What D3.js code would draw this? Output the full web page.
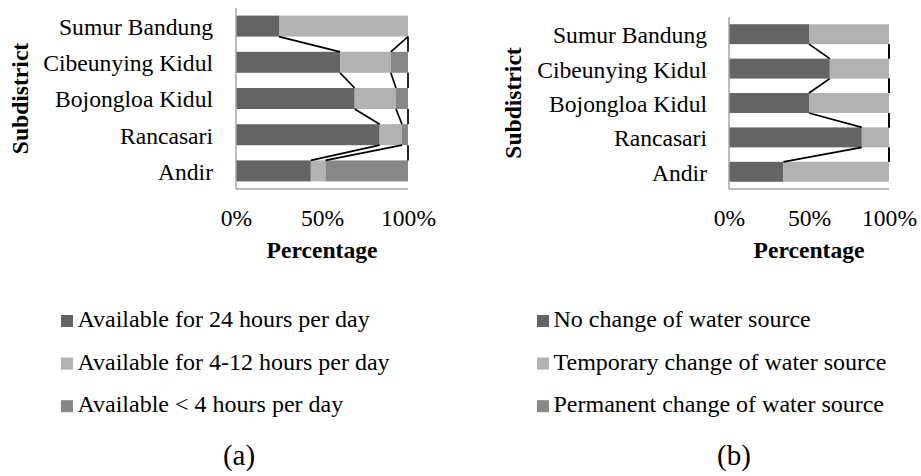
<!DOCTYPE html>
<html>
<head>
<meta charset="utf-8">
<script src="https://cdn.jsdelivr.net/npm/d3@7"></script>
<style>
  html, body { margin: 0; padding: 0; background: #ffffff; }
  svg { display: block; }
</style>
</head>
<body>
<svg id="chart" width="921" height="476"></svg>
<script>
// Subdistricts, listed top to bottom
const categories = ["Sumur Bandung", "Cibeunying Kidul", "Bojongloa Kidul", "Rancasari", "Andir"];

// (a) Duration of water availability, percent of respondents
const availability24h = [25, 60.5, 69, 83.5, 43.5];
const availability4to12h = [75, 29.5, 24, 13, 8.5];
const availabilityUnder4h = [0, 10, 7, 3.5, 48];
const availabilityLabels = ["Available for 24 hours per day", "Available for 4-12 hours per day", "Available < 4 hours per day"];

// (b) Change of water source, percent of respondents
const noChange = [50, 63, 50, 83, 34];
const temporaryChange = [50, 37, 50, 17, 66];
const permanentChange = [0, 0, 0, 0, 0];
const sourceLabels = ["No change of water source", "Temporary change of water source", "Permanent change of water source"];

const xTicks = [0, 50, 100];
const tickLabels = ["0%", "50%", "100%"];
const panelTags = ["(a)", "(b)"];

const colors = ["#646464", "#b2b2b2", "#878787"];
const FONT = 23.6;
const FAMILY = "Liberation Serif";

const svg = d3.select("#chart");

function styleText(sel, size) {
  return sel.style("font-family", FAMILY).style("font-size", (size || FONT) + "px").attr("fill", "#000");
}

function drawPanel(opt) {
  const g = svg.append("g");
  const x = d3.scaleLinear().domain([0, 100]).range([opt.x0, opt.x1]);
  const y = d3.scaleBand().domain(categories).range([opt.y0, opt.y1])
    .paddingInner(0.42).paddingOuter(0.21);

  // stack the series per category
  const rows = categories.map((c, i) => {
    const r = { cat: c };
    opt.series.forEach((s, k) => r["s" + k] = s[i]);
    return r;
  });
  const keys = opt.series.map((s, k) => "s" + k);
  const stacked = d3.stack().keys(keys)(rows);

  // bars
  stacked.forEach((layer, k) => {
    g.append("g").attr("fill", colors[k]).selectAll("rect")
      .data(layer).join("rect")
      .attr("x", d => x(d[0]))
      .attr("y", d => y(d.data.cat))
      .attr("width", d => Math.max(0, x(d[1]) - x(d[0])))
      .attr("height", y.bandwidth());
  });

  // series lines joining segment ends of neighbouring bars
  stacked.forEach(layer => {
    for (let i = 0; i < layer.length - 1; i++) {
      const a = layer[i], b = layer[i + 1];
      g.append("line")
        .attr("x1", x(a[1])).attr("y1", y(a.data.cat) + y.bandwidth())
        .attr("x2", x(b[1])).attr("y2", y(b.data.cat))
        .attr("stroke", "#000").attr("stroke-width", 1.7);
    }
  });

  // axis lines
  g.append("line").attr("x1", opt.x0).attr("x2", opt.x0)
    .attr("y1", opt.y0).attr("y2", opt.y1)
    .attr("stroke", "#a6a6a6").attr("stroke-width", 1.5);
  g.append("line").attr("x1", opt.x0).attr("x2", opt.x1)
    .attr("y1", opt.y1).attr("y2", opt.y1)
    .attr("stroke", "#a6a6a6").attr("stroke-width", 1.5);

  // category axis
  const yAxis = g.append("g").attr("transform", `translate(${opt.x0},0)`)
    .call(d3.axisLeft(y).tickSize(0).tickPadding(opt.labelPad));
  yAxis.attr("font-family", null).attr("font-size", null);
  yAxis.select(".domain").remove();
  styleText(yAxis.selectAll("text")).attr("dy", "0.38em");

  // value axis
  const xAxis = g.append("g").attr("transform", `translate(0,${opt.y1})`)
    .call(d3.axisBottom(x).tickValues(xTicks).tickSize(0)
      .tickFormat((d, i) => tickLabels[i]));
  xAxis.attr("font-family", null).attr("font-size", null);
  xAxis.select(".domain").remove();
  styleText(xAxis.selectAll("text")).attr("y", 37).attr("dy", 0);

  // axis titles
  styleText(g.append("text")).attr("x", (opt.x0 + opt.x1) / 2).attr("y", 258)
    .attr("text-anchor", "middle").style("font-weight", "bold")
    .text("Percentage");
  styleText(g.append("text"))
    .attr("transform", `translate(${opt.titleX},${(opt.y0 + opt.y1) / 2}) rotate(-90)`)
    .attr("text-anchor", "middle").style("font-weight", "bold")
    .text("Subdistrict");

  // legend
  const lg = g.append("g");
  opt.labels.forEach((lab, k) => {
    const by = 327 + k * 42.6;
    lg.append("rect").attr("x", opt.legendX).attr("y", by - 12).attr("width", 12).attr("height", 12)
      .attr("fill", colors[k]);
    styleText(lg.append("text"), 24).attr("x", opt.legendX + 16.5).attr("y", by).text(lab);
  });

  // panel tag
  styleText(g.append("text"), 29).attr("x", opt.tagX).attr("y", 465).attr("text-anchor", "middle")
    .text(opt.tag);
}

drawPanel({
  x0: 236, x1: 408, y0: 8, y1: 189,
  series: [availability24h, availability4to12h, availabilityUnder4h],
  labels: availabilityLabels, labelPad: 23, titleX: 28,
  legendX: 61, tagX: 239, tag: panelTags[0]
});

drawPanel({
  x0: 729, x1: 889, y0: 17, y1: 189,
  series: [noChange, temporaryChange, permanentChange],
  labels: sourceLabels, labelPad: 22, titleX: 521,
  legendX: 537, tagX: 734, tag: panelTags[1]
});
</script>
</body>
</html>
